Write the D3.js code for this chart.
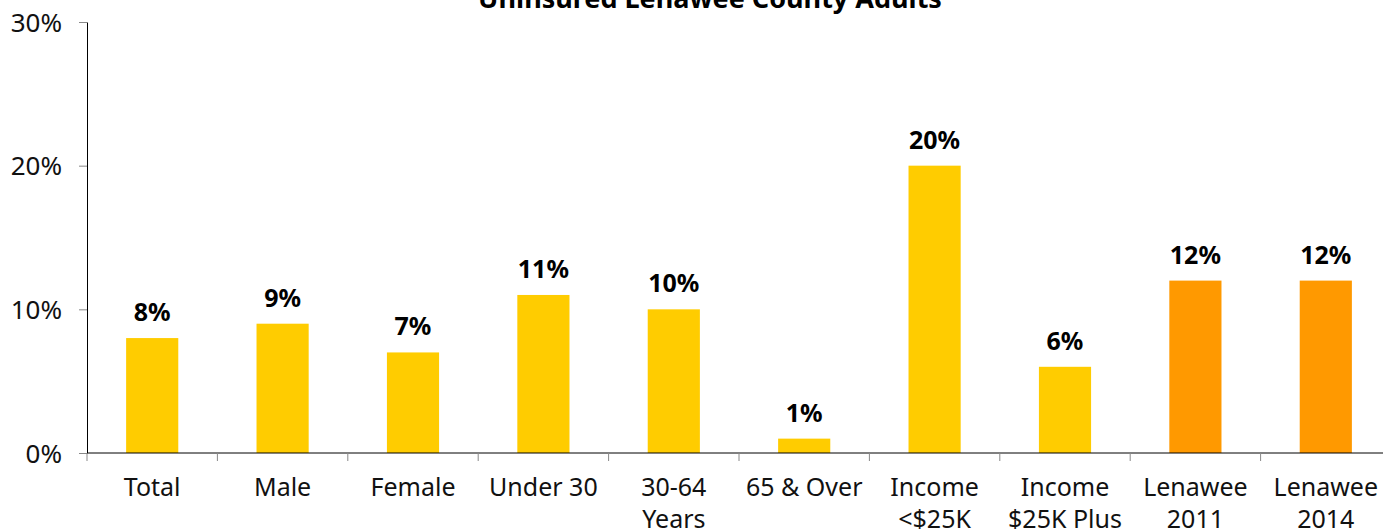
<!DOCTYPE html>
<html>
<head>
<meta charset="utf-8">
<script src="https://cdn.jsdelivr.net/npm/d3@7"></script>
<style>
  body { margin: 0; background: #fff; }
  svg { display: block; font-family: "Noto Sans", sans-serif; }
</style>
</head>
<body>
<svg id="chart"></svg>
<script>
// chart data
var categories = ["Total", "Male", "Female", "Under 30", "30-64 Years", "65 & Over",
                  "Income <$25K", "Income $25K Plus", "Lenawee 2011", "Lenawee 2014"];
var labelLines = [["Total"], ["Male"], ["Female"], ["Under 30"], ["30-64", "Years"], ["65 & Over"],
                  ["Income", "<$25K"], ["Income", "$25K Plus"], ["Lenawee", "2011"], ["Lenawee", "2014"]];
var values = [8, 9, 7, 11, 10, 1, 20, 6, 12, 12];
var highlight = ["Lenawee 2011", "Lenawee 2014"];
var yTicks = [0, 10, 20, 30];
var title = "Uninsured Lenawee County Adults";

var drawChart = function() {
    var width = 1383, height = 529;
    var svg = d3.select("#chart").attr("width", width).attr("height", height);

    var plotLeft = 87, plotTop = 22, plotBottom = 453;
    var bandW = 130.4;

    var x = d3.scaleBand()
        .domain(categories)
        .range([plotLeft, plotLeft + bandW * categories.length])
        .paddingInner(0.6)
        .paddingOuter(0.3);

    var y = d3.scaleLinear().domain([0, 30]).range([plotBottom, plotTop]);

    // title (partly off the top like the original)
    svg.append("text")
        .attr("x", 710)
        .attr("y", 8)
        .attr("text-anchor", "middle")
        .style("font-size", "27px")
        .style("font-weight", "bold")
        .text(title);

    // bars
    svg.append("g").selectAll("rect")
        .data(values)
        .enter().append("rect")
        .attr("x", function(d, i) { return x(categories[i]); })
        .attr("width", x.bandwidth())
        .attr("y", function(d) { return y(d); })
        .attr("height", function(d) { return plotBottom - y(d); })
        .attr("fill", function(d, i) { return highlight.indexOf(categories[i]) >= 0 ? "#FF9900" : "#FFCC00"; });

    // value labels
    svg.append("g").selectAll("text")
        .data(values)
        .enter().append("text")
        .attr("x", function(d, i) { return x(categories[i]) + x.bandwidth() / 2; })
        .attr("y", function(d) { return y(d) - 17; })
        .attr("text-anchor", "middle")
        .style("font-size", "25px")
        .style("font-weight", "bold")
        .text(function(d) { return d + "%"; });

    // y axis
    var yAxis = svg.append("g")
        .attr("transform", "translate(" + plotLeft + ",0)")
        .call(d3.axisLeft(y).tickValues(yTicks).tickFormat(function(d) { return d + "%"; })
            .tickSize(8).tickSizeOuter(0));
    yAxis.select(".domain").attr("stroke", "#000");
    yAxis.selectAll(".tick line").attr("stroke", "#888");
    yAxis.selectAll(".tick text")
        .attr("x", -25)
        .attr("dy", "0.35em")
        .style("font-size", "26px")
        .style("font-family", "'Noto Sans', sans-serif")
        .attr("fill", "#111");

    // x axis line + ticks at band boundaries
    var xAxis = svg.append("g");
    xAxis.append("line")
        .attr("x1", plotLeft).attr("x2", width)
        .attr("y1", plotBottom).attr("y2", plotBottom)
        .attr("stroke", "#000");
    xAxis.selectAll(".xt")
        .data(d3.range(categories.length))
        .enter().append("line")
        .attr("class", "xt")
        .attr("x1", function(i) { return plotLeft + i * bandW; })
        .attr("x2", function(i) { return plotLeft + i * bandW; })
        .attr("y1", plotBottom).attr("y2", plotBottom + 8)
        .attr("stroke", "#888");

    // category labels, wrapped onto two lines where the original does
    var lbl = xAxis.selectAll(".xl")
        .data(categories)
        .enter().append("text")
        .attr("class", "xl")
        .attr("text-anchor", "middle")
        .attr("x", function(d) { return x(d) + x.bandwidth() / 2; })
        .attr("y", 496)
        .style("font-size", "25px")
        .attr("fill", "#111");
    lbl.selectAll("tspan")
        .data(function(d, i) { return labelLines[i]; })
        .enter().append("tspan")
        .attr("x", function() { return d3.select(this.parentNode).attr("x"); })
        .attr("dy", function(d, i) { return i === 0 ? 0 : 32; })
        .text(function(d) { return d; });
};

drawChart();
</script>
</body>
</html>
